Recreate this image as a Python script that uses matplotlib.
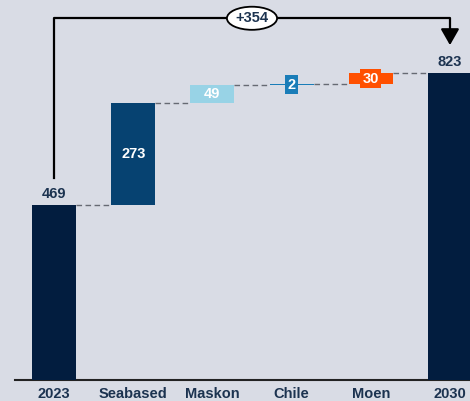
import matplotlib

matplotlib.use("Agg")
import matplotlib.pyplot as plt
from matplotlib.patches import FancyArrowPatch

categories = ["2023", "Seabased", "Maskon", "Chile", "Moen", "2030"]
values = [469, 273, 49, 2, 30, 823]
is_total = [True, False, False, False, False, True]
colors = ["#021d3f", "#064271", "#98d3e6", "#1a7db8", "#ff5000", "#021d3f"]
bracket_label = "+354"

BG = "#d9dce5"
TXT = "#1c3350"

plt.rcParams["font.family"] = ["Liberation Sans", "DejaVu Sans"]

fig = plt.figure(figsize=(4.7, 4.01), dpi=100, facecolor=BG)
ax = fig.add_axes([0.0, 21 / 401, 1.0, 380 / 401])
ax.set_facecolor(BG)

# waterfall bottoms
bottoms = []
running = 0
for v, tot in zip(values, is_total):
    if tot:
        bottoms.append(0)
        running = v
    else:
        bottoms.append(running)
        running += v

xs = list(range(len(categories)))
w = 0.556
ax.bar(xs, values, bottom=bottoms, width=w, color=colors, zorder=3)

# connectors
for i in range(len(xs) - 1):
    level = bottoms[i] + values[i]
    ax.plot([xs[i] + w / 2, xs[i + 1] - w / 2], [level, level],
            ls=(0, (4, 2.5)), color="#666a73", lw=1, zorder=2)

# value labels
for i, (v, b, tot) in enumerate(zip(values, bottoms, is_total)):
    if tot:
        ax.text(xs[i], b + v + 10, str(v), ha="center", va="bottom",
                fontsize=10.5, fontweight="bold", color=TXT)
    elif v > 40:
        ax.text(xs[i], b + v / 2, str(v), ha="center", va="center",
                fontsize=10.5, fontweight="bold", color="white", zorder=4)
    else:
        ax.text(xs[i], b + v / 2, str(v), ha="center", va="center",
                fontsize=10.5, fontweight="bold", color="white", zorder=4,
                bbox=dict(boxstyle="square,pad=0.15", fc=colors[i], ec="none"))

# bracket from first total to last total
y_top = 970
ax.plot([xs[0], xs[0], xs[-1], xs[-1]], [541, y_top, y_top, 930],
        color="black", lw=1.6, zorder=2, solid_joinstyle="round")
ax.add_patch(FancyArrowPatch((xs[-1], 935), (xs[-1], 898),
                             arrowstyle="-|>,head_length=0.7,head_width=0.4",
                             mutation_scale=14, color="black", lw=1.6,
                             shrinkA=0, shrinkB=0))
ax.text((xs[0] + xs[-1]) / 2, y_top, bracket_label, ha="center", va="center",
        fontsize=10.5, fontweight="bold", color=TXT, zorder=5,
        bbox=dict(boxstyle="ellipse,pad=0.08", fc="white", ec="black", lw=1.3))

ax.set_xlim(-0.682, 5.253)
ax.set_ylim(0, 1019)
ax.set_xticks(xs)
ax.set_xticklabels(categories, fontsize=10.5, fontweight="bold", color=TXT)
ax.tick_params(axis="x", length=0, pad=5)
ax.set_yticks([])
for s in ["top", "right", "left"]:
    ax.spines[s].set_visible(False)
ax.spines["bottom"].set_color("#222222")
ax.spines["bottom"].set_linewidth(1.5)
ax.spines["bottom"].set_bounds(-0.49, 5.253)

fig.savefig("out.png", dpi=100, facecolor=BG)
